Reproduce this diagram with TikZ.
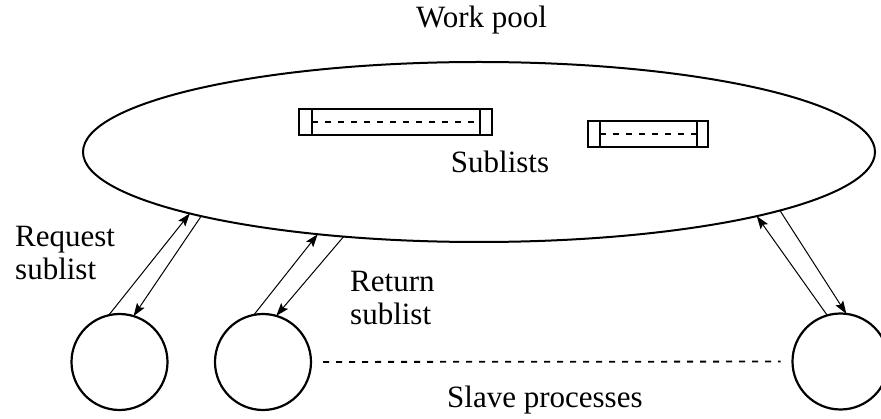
\documentclass[tikz,border=0pt]{standalone}
\usepackage{fontspec}
\setmainfont{Liberation Serif}
\usetikzlibrary{arrows.meta,shapes.geometric}

\begin{document}
\begin{tikzpicture}[x=1pt,y=-1pt,
  txt/.style={inner sep=0pt, font=\fontsize{31}{33}\selectfont},
  proc/.style={circle, draw, line width=2.2pt, minimum size=96pt, inner sep=0pt, outer sep=0pt},
  flow/.style={line width=1pt, -{Stealth[length=13pt,width=9pt,inset=2.5pt]}},
  sublist/.style={draw, line width=1.7pt, inner sep=0pt, outer sep=0pt, minimum height=26pt},
  divider/.style={line width=1.7pt},
  dashes/.style={line width=1.8pt, dash pattern=on 6pt off 7pt}]
\clip (0,0) rectangle (881,419);

% the work pool
\node[ellipse, draw, line width=2pt, minimum width=792pt, minimum height=180pt,
      inner sep=0pt, outer sep=0pt] (pool) at (479,152) {};

% sublists held in the pool
\node[sublist, minimum width=193pt] (b1) at (395.5,122) {};
\draw[divider] ([xshift=13pt]b1.north west) -- ([xshift=13pt]b1.south west);
\draw[divider] ([xshift=-12pt]b1.north east) -- ([xshift=-12pt]b1.south east);
\draw[dashes] ([xshift=13pt]b1.west) -- ([xshift=-12pt]b1.east);

\node[sublist, minimum width=120pt] (b2) at (648,134) {};
\draw[divider] ([xshift=12pt]b2.north west) -- ([xshift=12pt]b2.south west);
\draw[divider] ([xshift=-11pt]b2.north east) -- ([xshift=-11pt]b2.south east);
\draw[dashes] ([xshift=12pt]b2.west) -- ([xshift=-11pt]b2.east);

% slave processes
\node[proc] (s1) at (119.5,362) {};
\node[proc] (s2) at (263,362) {};
\node[proc] (s3) at (840.5,361.5) {};
\draw[dashes, shorten <=12pt, shorten >=12pt] (s2) -- (s3);

% requests and returns
\draw[flow] (s1.103.5) -- (pool.192.7);
\draw[flow] (pool.193.9) -- (s1.73.8);
\draw[flow] (s2.101.5) -- (pool.207.1);
\draw[flow] (pool.212) -- (s2.74.4);
\draw[flow] (s3.106.6) -- (pool.-13.6);
\draw[flow] (pool.-11.8) -- (s3.83.2);

% labels (base of a two-line label is its last line)
\node[txt, anchor=base] (wp) at (481.5,28) {Work pool};
\node[txt, anchor=base] (sl) at (500,173) {Sublists};
\node[txt, anchor=base west, align=left] (rq) at (15,280) {Request\\sublist};
\node[txt, anchor=base west, align=left] (rt) at (350,325) {Return\\sublist};
\node[txt, anchor=base west] (sp) at (447,408) {Slave processes};
\end{tikzpicture}
\end{document}
